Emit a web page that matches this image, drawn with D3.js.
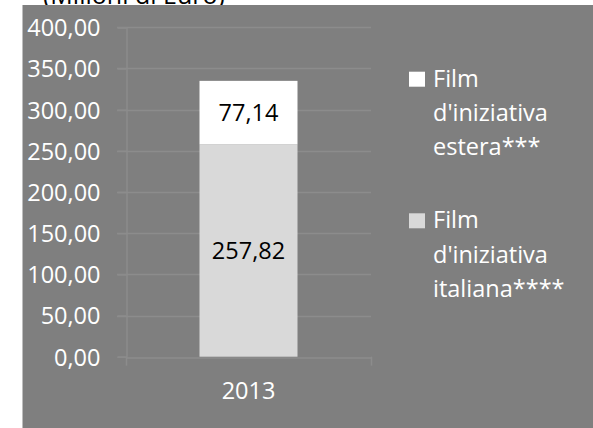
<!DOCTYPE html>
<html><head><meta charset="utf-8">
<script src="https://cdn.jsdelivr.net/npm/d3@7"></script>
<style>
html,body{margin:0;padding:0;background:#fff;}
svg{display:block;font-family:"Open Sans",sans-serif;}
</style></head>
<body>
<svg id="chart" width="593" height="428"></svg>
<script>
const title = "(Milioni di Euro)";
const categories = ["2013"];
const seriesNames = ["Film d'iniziativa italiana****", "Film d'iniziativa estera***"];
const italiana = [257.82];
const estera = [77.14];
const yTicks = [0, 50, 100, 150, 200, 250, 300, 350, 400];
const legendLines = [
  ["Film", "d'iniziativa", "estera***"],
  ["Film", "d'iniziativa", "italiana****"]
];

const fmt = v => d3.format(".2f")(v).replace(".", ",");
const svg = d3.select("#chart");

svg.append("text").attr("x", 43).attr("y", 4).attr("font-size", 25)
  .attr("fill", "#000").text(title);
svg.append("rect").attr("x", 22.5).attr("y", 5).attr("width", 571).attr("height", 423)
  .attr("fill", "#7f7f7f");

const pL = 126, pR = 371, pT = 27.3, pB = 356.7;
const y = d3.scaleLinear().domain([0, 400]).range([pB, pT]);
const x = d3.scaleBand().domain(categories).range([pL, pR]).paddingInner(0).paddingOuter(0);
const gridColor = "#8c8c8c";

// gridlines
svg.append("g").selectAll("line").data(yTicks.filter(d => d > 0)).join("line")
  .attr("x1", pL - 9).attr("x2", pR)
  .attr("y1", d => Math.round(y(d)) + 0.5).attr("y2", d => Math.round(y(d)) + 0.5)
  .attr("stroke", gridColor).attr("stroke-width", 1.5);

// y axis
const yAxis = svg.append("g").attr("transform", `translate(${pL + 0.5},0)`)
  .call(d3.axisLeft(y).tickValues(yTicks).tickSize(9).tickPadding(17).tickFormat(fmt));
yAxis.select(".domain").attr("stroke", gridColor).attr("stroke-width", 1.5);
yAxis.selectAll(".tick line").attr("stroke", gridColor).attr("stroke-width", 1.5);
yAxis.selectAll(".tick text").attr("fill", "#fff").attr("font-size", 23.5)
  .attr("font-family", "Open Sans").attr("dy", "0.36em");

// x axis
const xAxis = svg.append("g").attr("transform", `translate(0,${Math.round(pB) + 0.5})`)
  .call(d3.axisBottom(x).tickSize(0).tickPadding(25));
xAxis.select(".domain").attr("stroke", gridColor).attr("stroke-width", 1.5);
xAxis.selectAll(".tick text").attr("fill", "#fff").attr("font-size", 23.5)
  .attr("font-family", "Open Sans");
svg.append("g").selectAll("line").data([pL, pR]).join("line")
  .attr("x1", d => d + 0.5).attr("x2", d => d + 0.5)
  .attr("y1", pB).attr("y2", pB + 9)
  .attr("stroke", gridColor).attr("stroke-width", 1.5);

// bars
const bw = x.bandwidth() * 0.4;
const bx = c => x(c) + (x.bandwidth() - bw) / 2;
const stack = categories.map((c, i) => ({c, it: italiana[i], es: estera[i]}));
svg.append("g").selectAll("rect.it").data(stack).join("rect")
  .attr("x", d => bx(d.c)).attr("width", bw)
  .attr("y", d => y(d.it)).attr("height", d => y(0) - y(d.it))
  .attr("fill", "#d9d9d9");
svg.append("g").selectAll("rect.es").data(stack).join("rect")
  .attr("x", d => bx(d.c)).attr("width", bw)
  .attr("y", d => y(d.it + d.es)).attr("height", d => y(d.it) - y(d.it + d.es))
  .attr("fill", "#ffffff");

// data labels
const lab = svg.append("g").attr("font-size", 23.5).attr("fill", "#000").attr("text-anchor", "middle");
stack.forEach(d => {
  lab.append("text").attr("x", x(d.c) + x.bandwidth() / 2).attr("y", y(d.it / 2)).attr("dy", "0.36em").text(fmt(d.it));
  lab.append("text").attr("x", x(d.c) + x.bandwidth() / 2).attr("y", y(d.it + d.es / 2)).attr("dy", "0.36em").text(fmt(d.es));
});

// legend
const legColors = ["#ffffff", "#d9d9d9"];
const lg = svg.append("g");
legendLines.forEach((lines, i) => {
  const gy = 86.7 + i * 141.6;
  lg.append("rect").attr("x", 409).attr("y", gy - 15).attr("width", 16).attr("height", 15).attr("fill", legColors[i]);
  lines.forEach((t, j) => {
    lg.append("text").attr("x", 433).attr("y", gy + j * 34.3).attr("font-size", 23.5)
      .attr("fill", "#fff").text(t);
  });
});
</script>
</body></html>
